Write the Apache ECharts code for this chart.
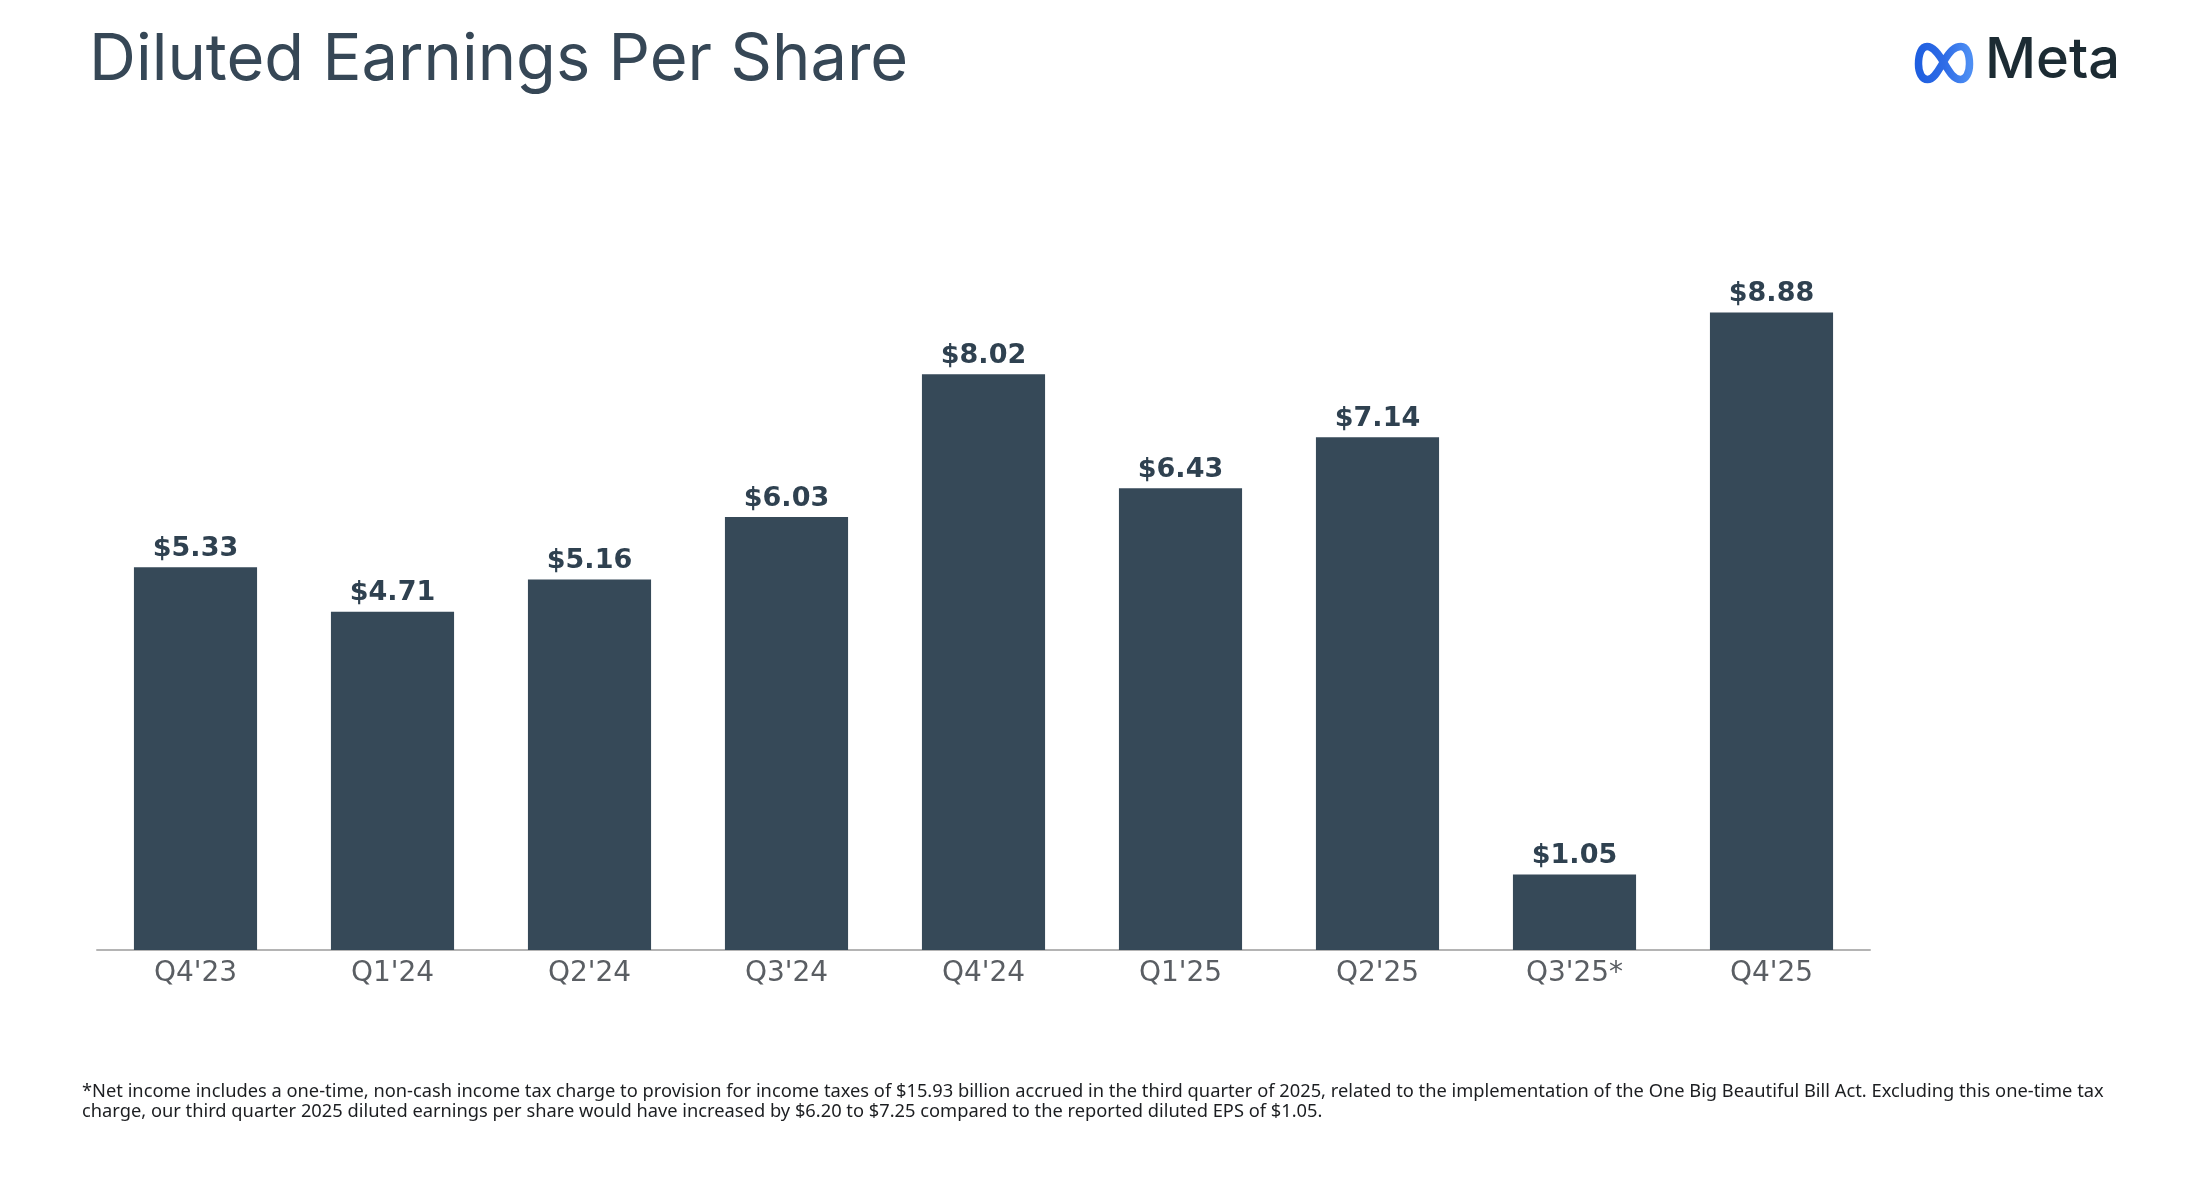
<!DOCTYPE html>
<html>
<head>
<meta charset="utf-8">
<script src="https://cdn.jsdelivr.net/npm/echarts@6/dist/echarts.min.js"></script>
<style>
html,body{margin:0;padding:0;background:#fff;}
#chart{width:2194px;height:1194px;}
</style>
</head>
<body>
<div id="chart"></div>
<script>
var categories = ["Q4'23", "Q1'24", "Q2'24", "Q3'24", "Q4'24", "Q1'25", "Q2'25", "Q3'25*", "Q4'25"];
var epsValues = [5.33, 4.71, 5.16, 6.03, 8.02, 6.43, 7.14, 1.05, 8.88];
var titleText = 'Diluted Earnings Per Share';
var footnoteText = '*Net income includes a one-time, non-cash income tax charge to provision for income taxes of $15.93 billion accrued in the third quarter of 2025, related to the implementation of the One Big Beautiful Bill Act. Excluding this one-time tax\ncharge, our third quarter 2025 diluted earnings per share would have increased by $6.20 to $7.25 compared to the reported diluted EPS of $1.05.';

var logoSvg = '<svg xmlns="http://www.w3.org/2000/svg" width="60" height="42" viewBox="0 0 60 42">' +
  '<defs><linearGradient id="g" x1="0" y1="0" x2="1" y2="0">' +
  '<stop offset="0" stop-color="#1f5fe0"/><stop offset="0.5" stop-color="#2e6be6"/><stop offset="1" stop-color="#4d8ef3"/></linearGradient></defs>' +
  '<path d="M30,21 C24,11 19,4.5 13,4.5 C7.5,4.5 4.5,12 4.5,22 C4.5,31 8,37.5 13.5,37.5 C20,37.5 24,29 30,19 C36,9 40.5,4.5 47,4.5 C52.5,4.5 55.5,12 55.5,22 C55.5,31 52,37.5 46.5,37.5 C40,37.5 36,31 30,21 Z" fill="none" stroke="url(#g)" stroke-width="7.5"/></svg>';
var logoUri = 'data:image/svg+xml;charset=utf-8,' + encodeURIComponent(logoSvg);

var chart = echarts.init(document.getElementById('chart'));
var option = {
  backgroundColor: '#ffffff',
  animation: false,
  title: {
    text: titleText,
    left: 84,
    top: 23,
    textStyle: {
      fontFamily: 'Inter',
      fontWeight: 'normal',
      fontSize: 65,
      color: '#364756'
    }
  },
  grid: {
    left: 97,
    right: 324,
    top: 232,
    bottom: 244,
    containLabel: false
  },
  xAxis: {
    type: 'category',
    data: categories,
    axisLine: { show: true, lineStyle: { color: '#b4b4b4', width: 2 } },
    axisTick: { show: false },
    axisLabel: {
      margin: 10,
      fontFamily: 'DejaVu Sans',
      fontSize: 28,
      color: '#5a5e63'
    }
  },
  yAxis: {
    type: 'value',
    min: 0,
    max: 10,
    show: false,
    splitLine: { show: false }
  },
  series: [{
    type: 'bar',
    data: epsValues,
    barWidth: '62.5%',
    itemStyle: { color: '#364958' },
    label: {
      show: true,
      position: 'top',
      distance: 5,
      formatter: function (p) { return '$' + p.value.toFixed(2); },
      fontFamily: 'DejaVu Sans',
      fontWeight: 'bold',
      fontSize: 27,
      color: '#2f4150'
    }
  }],
  graphic: [
    {
      type: 'image',
      x: 1914,
      y: 42,
      style: { image: logoUri, width: 60, height: 42 }
    },
    {
      type: 'text',
      x: 1985,
      y: 33,
      style: {
        text: 'Meta',
        fontFamily: 'Inter',
        fontWeight: 500,
        fontSize: 56,
        fill: '#1c2b33'
      }
    },
    {
      type: 'text',
      x: 82,
      y: 1082,
      style: {
        text: footnoteText,
        fontFamily: 'Noto Sans',
        fontSize: 18.3,
        lineHeight: 20,
        fill: '#1c1e21'
      }
    }
  ]
};
chart.setOption(option);
</script>
</body>
</html>
